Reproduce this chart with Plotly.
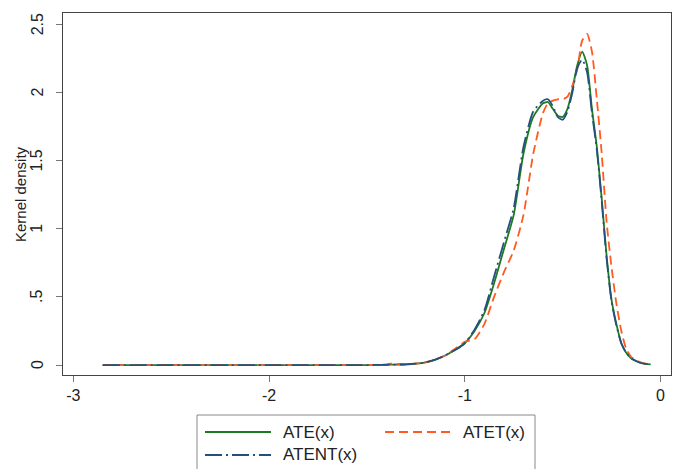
import plotly.graph_objects as go

x_grid = [-2.85, -2.5, -2.0, -1.5, -1.4, -1.37, -1.33, -1.3, -1.25, -1.2, -1.15, -1.1, -1.05,
          -1.0, -0.95, -0.9, -0.85, -0.8, -0.75, -0.7, -0.65, -0.6, -0.575, -0.55,
          -0.525, -0.5, -0.475, -0.45, -0.425, -0.4, -0.375, -0.35, -0.325, -0.3,
          -0.275, -0.25, -0.225, -0.2, -0.175, -0.15, -0.125, -0.1, -0.075, -0.05]

ate = [0.0, 0.0, 0.0, 0.0, 0.002, 0.003, 0.004, 0.005, 0.01, 0.02, 0.04, 0.07, 0.11,
       0.16, 0.25, 0.38, 0.6, 0.85, 1.1, 1.55, 1.82, 1.92, 1.93, 1.88,
       1.83, 1.82, 1.88, 2.02, 2.2, 2.30, 2.2, 1.88, 1.6, 1.22,
       0.8, 0.48, 0.3, 0.16, 0.09, 0.05, 0.03, 0.015, 0.008, 0.005]

atet = [0.0, 0.0, 0.0, 0.0, 0.005, 0.012, 0.006, 0.004, 0.01, 0.02, 0.04, 0.07, 0.12,
        0.17, 0.19, 0.3, 0.5, 0.68, 0.84, 1.1, 1.55, 1.85, 1.92, 1.94,
        1.95, 1.95, 1.97, 2.05, 2.17, 2.38, 2.43, 2.3, 1.95, 1.55,
        1.05, 0.72, 0.45, 0.25, 0.12, 0.06, 0.035, 0.02, 0.01, 0.006]

atent = [0.0, 0.0, 0.0, 0.0, 0.002, 0.003, 0.004, 0.005, 0.01, 0.02, 0.04, 0.07, 0.11,
         0.16, 0.26, 0.4, 0.65, 0.9, 1.15, 1.6, 1.86, 1.94, 1.95, 1.9,
         1.82, 1.80, 1.86, 2.0, 2.18, 2.24, 2.15, 1.85, 1.58, 1.2,
         0.78, 0.47, 0.29, 0.16, 0.09, 0.05, 0.03, 0.015, 0.008, 0.005]

series_names = ["ATE(x)", "ATET(x)", "ATENT(x)"]

x_ticks = [-3, -2, -1, 0]
x_tick_labels = ["-3", "-2", "-1", "0"]
y_ticks = [0, 0.5, 1, 1.5, 2, 2.5]
y_tick_labels = ["0", ".5", "1", "1.5", "2", "2.5"]
y_title = "Kernel density"

font = "Liberation Sans, Arial, sans-serif"
colors = ["#1d7a22", "#ff5a1f", "#24507e"]
dashes = ["solid", "9px,5px", "17px,4px,2px,4px"]

fig = go.Figure()
for name, ys, c, d in zip(series_names, [ate, atet, atent], colors, dashes):
    fig.add_trace(go.Scatter(x=x_grid, y=ys, mode="lines", name=name,
                             line=dict(color=c, width=1.8, dash=d, shape="spline", smoothing=0.6)))

# plot area in pixels: x 63..671, y 13..375
L, R, T, B = 63, 671, 13, 375
def px(x): return (x - L) / (R - L)
def py(y): return (B - y) / (B - T)

shapes = [dict(type="rect", xref="paper", yref="paper",
               x0=px(197), x1=px(535), y0=py(415), y1=py(490),
               line=dict(color="#888", width=1), fillcolor="white", layer="above")]
annotations = []
legend_pos = [(205, 432), (385, 432), (205, 455)]
for (lx, ly), name, c, d in zip(legend_pos, series_names, colors, dashes):
    shapes.append(dict(type="line", xref="paper", yref="paper",
                       x0=px(lx), x1=px(lx + 66), y0=py(ly), y1=py(ly),
                       line=dict(color=c, width=1.8, dash=d)))
    annotations.append(dict(xref="paper", yref="paper", x=px(lx + 76), y=py(ly),
                            xanchor="left", yanchor="middle", showarrow=False,
                            text=name, font=dict(family=font, size=17, color="#222")))

# rotated y tick labels (Stata style)
for v, t in zip(y_ticks, y_tick_labels):
    annotations.append(dict(xref="paper", yref="y", x=px(37), y=v, text=t,
                            textangle=-90, showarrow=False, xanchor="center", yanchor="middle",
                            font=dict(family=font, size=16, color="#222")))
annotations.append(dict(xref="paper", yref="paper", x=px(20), y=0.5, text=y_title,
                        textangle=-90, showarrow=False, xanchor="center", yanchor="middle",
                        font=dict(family=font, size=15, color="#222")))

fig.update_layout(
    width=679, height=469,
    margin=dict(l=L, r=679 - R, t=T, b=469 - B, autoexpand=False),
    paper_bgcolor="white", plot_bgcolor="white",
    font=dict(family=font, size=16, color="#222"),
    showlegend=False,
    shapes=shapes, annotations=annotations,
    xaxis=dict(
        range=[-3.053, 0.054], tickvals=x_ticks, ticktext=x_tick_labels,
        showgrid=False, zeroline=False, showline=True, mirror=True, automargin=False,
        linecolor="#444", linewidth=1.2, ticks="outside", ticklen=6,
        tickcolor="#777", tickfont=dict(family=font, size=16),
    ),
    yaxis=dict(
        range=[-0.073, 2.583], tickvals=y_ticks, showticklabels=False,
        showgrid=False, zeroline=False, showline=True, mirror=True, automargin=False,
        linecolor="#444", linewidth=1.2, ticks="outside", ticklen=6,
        tickcolor="#777",
    ),
)

fig.write_html("out.html", config={"displayModeBar": False},
               post_script="document.body.style.margin='0px';")
